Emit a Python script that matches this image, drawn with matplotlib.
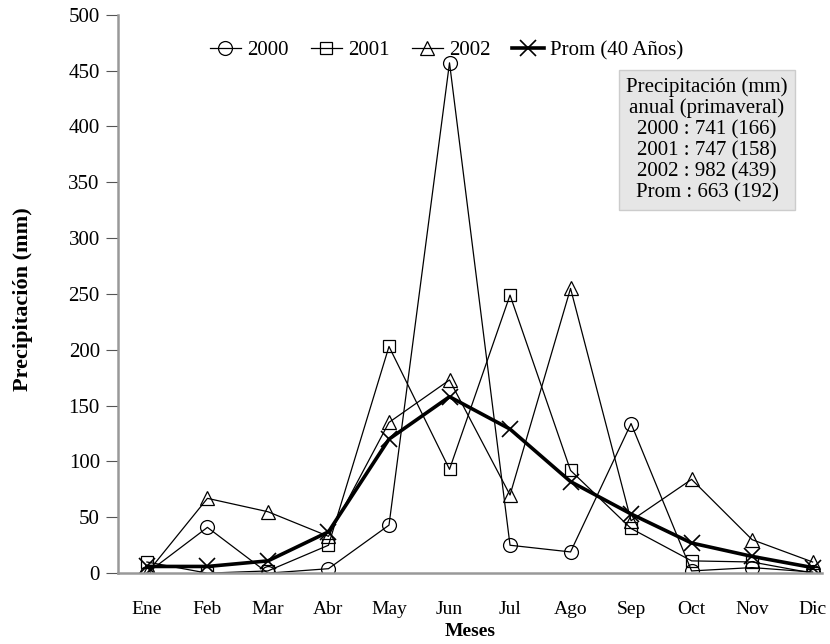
import matplotlib
matplotlib.use('Agg')
import matplotlib.pyplot as plt

plt.rcParams['font.family'] = ['Liberation Serif', 'DejaVu Serif']

meses = ['Ene', 'Feb', 'Mar', 'Abr', 'May', 'Jun', 'Jul', 'Ago', 'Sep', 'Oct', 'Nov', 'Dic']
p2000 = [0, 41, 0, 4, 43, 457, 25, 19, 134, 2, 5, 1]
p2001 = [10, 0, 2, 25, 203, 93, 249, 92, 40, 11, 10, 0]
p2002 = [0, 67, 55, 33, 135, 173, 70, 255, 47, 84, 30, 10]
prom = [6, 6, 11, 37, 120, 158, 129, 82, 53, 27, 15, 5]

resumen = ['Precipitación (mm)', 'anual (primaveral)',
           '2000 : 741 (166)', '2001 : 747 (158)',
           '2002 : 982 (439)', 'Prom : 663 (192)']

x = list(range(len(meses)))

fig = plt.figure(figsize=(8.3, 6.44), dpi=100)
ax = fig.add_axes([0.142, 0.110, 0.848, 0.867])

ax.plot(x, p2000, color='black', lw=0.9, marker='o', ms=10, mfc='none', mew=0.9, label='2000')
ax.plot(x, p2001, color='black', lw=0.9, marker='s', ms=9, mfc='none', mew=0.9, label='2001')
ax.plot(x, p2002, color='black', lw=0.9, marker='^', ms=10, mfc='none', mew=0.9, label='2002')
ax.plot(x, prom, color='black', lw=2.6, marker='x', ms=11, mew=1.2, label='Prom (40 Años)')

ax.set_xlim(-0.48, 11.15)
ax.set_ylim(0, 500)
ax.set_yticks(range(0, 501, 50))
ax.set_xticks(x)
ax.set_xticklabels(meses)

for s in ['top', 'right']:
    ax.spines[s].set_visible(False)
for s in ['left', 'bottom']:
    ax.spines[s].set_color('#999999')
    ax.spines[s].set_linewidth(1.8)

ax.tick_params(axis='y', direction='out', length=9, width=0.8, color='#555555', labelsize=15, pad=4)
ax.tick_params(axis='x', length=0, labelsize=14, pad=20)

ax.set_ylabel('Precipitación (mm)', fontsize=16, fontweight='bold')
ax.yaxis.set_label_coords(-0.12, 0.49)
ax.set_xlabel('Meses', fontsize=14, fontweight='bold', labelpad=4)

ax.legend(loc='upper center', bbox_to_anchor=(0.467, 1.0), ncol=4, frameon=False,
          fontsize=15, handlelength=1.5, handletextpad=0.3, columnspacing=1.05,
          borderaxespad=0.85)

ax.text(0.837, 0.776, '\n'.join(resumen), transform=ax.transAxes, ha='center', va='center',
        fontsize=15, linespacing=1.13,
        bbox=dict(boxstyle='square,pad=0.35', facecolor='#e6e6e6', edgecolor='#cccccc'))

fig.savefig('out.png', dpi=100)
